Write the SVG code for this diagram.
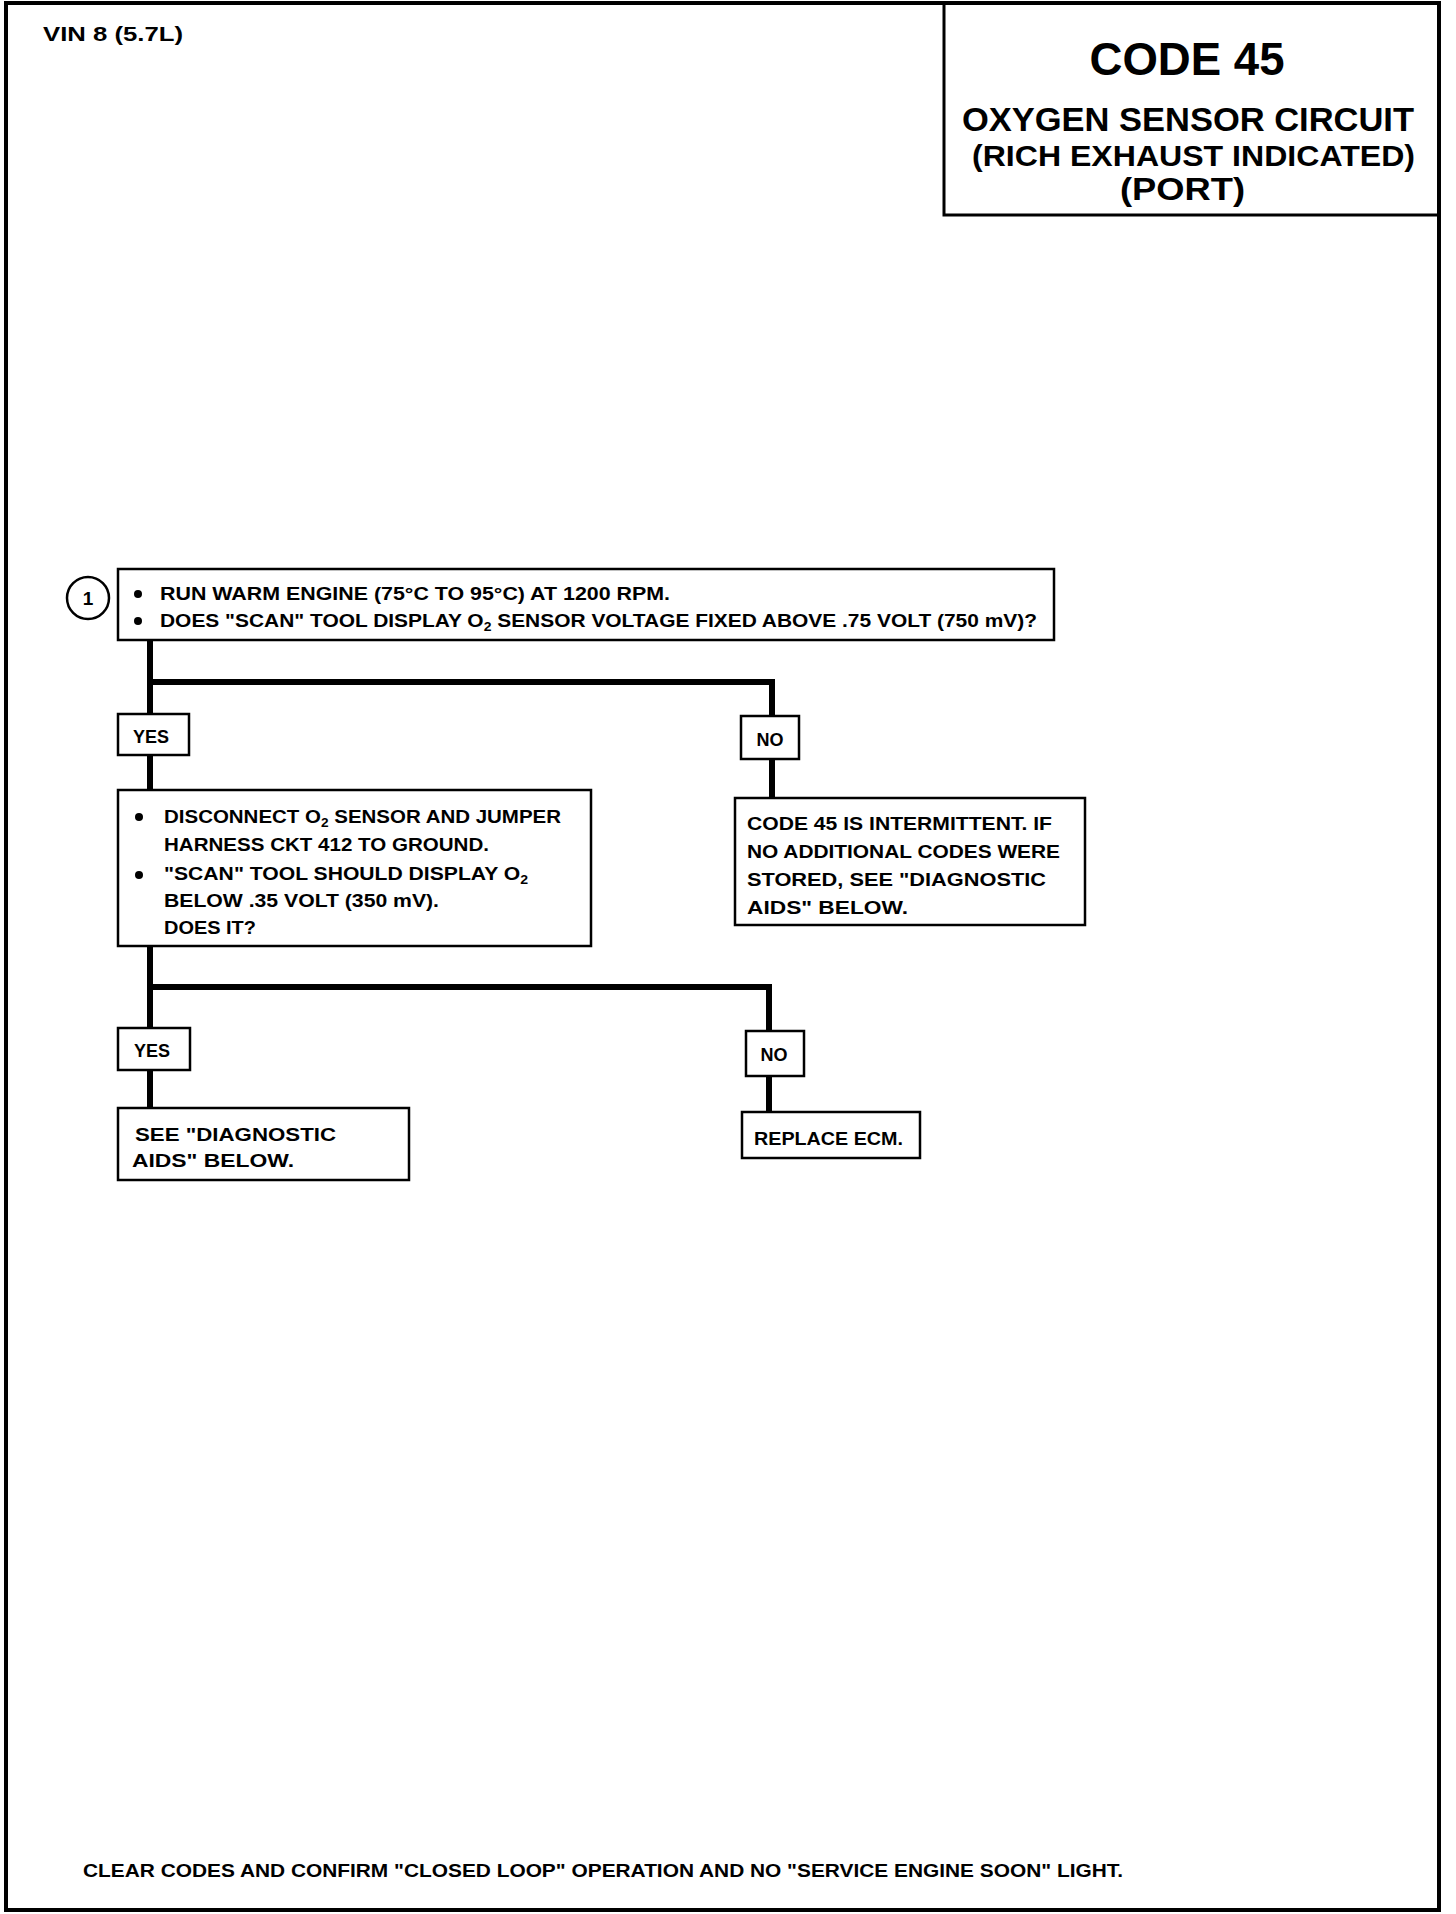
<svg xmlns="http://www.w3.org/2000/svg" width="1456" height="1914" viewBox="0 0 1456 1914">
<style>
text{font-family:"Liberation Sans",Arial,sans-serif;font-weight:bold;fill:#000}
.t{font-size:18px}
.box{fill:#fff;stroke:#000;stroke-width:2.5}
.conn{fill:none;stroke:#000;stroke-width:6;stroke-linejoin:miter}
.sub{font-size:12px}
</style>
<rect x="0" y="0" width="1456" height="1914" fill="#fff"/>
<g id="frame">
<rect x="6" y="3" width="1433" height="1907" fill="none" stroke="#000" stroke-width="4"/>
<text x="43" y="41" font-size="20" textLength="140" lengthAdjust="spacingAndGlyphs">VIN 8 (5.7L)</text>
</g>
<g id="title">
<path d="M944 3 V215 H1439" fill="none" stroke="#000" stroke-width="3"/>
<text x="1187" y="75" font-size="46" text-anchor="middle" textLength="195" lengthAdjust="spacingAndGlyphs">CODE 45</text>
<text x="962" y="131" font-size="33" textLength="452" lengthAdjust="spacingAndGlyphs">OXYGEN SENSOR CIRCUIT</text>
<text x="972" y="166" font-size="29" textLength="443" lengthAdjust="spacingAndGlyphs">(RICH EXHAUST INDICATED)</text>
<text x="1120" y="200" font-size="31" textLength="125" lengthAdjust="spacingAndGlyphs">(PORT)</text>
</g>
<g id="connectors">
<path class="conn" d="M150 640 V714"/>
<path class="conn" d="M150 682 H772 V716"/>
<path class="conn" d="M150 755 V790"/>
<path class="conn" d="M772 759 V798"/>
<path class="conn" d="M150 946 V1028"/>
<path class="conn" d="M150 987 H769 V1031"/>
<path class="conn" d="M150 1070 V1108"/>
<path class="conn" d="M769 1076 V1112"/>
</g>
<g id="step1">
<circle cx="88" cy="598" r="21" fill="#fff" stroke="#000" stroke-width="2.5"/>
<text x="88" y="605" font-size="19" text-anchor="middle">1</text>
<rect class="box" x="118" y="569" width="936" height="71"/>
<circle cx="138" cy="594" r="4"/>
<circle cx="138" cy="621" r="4"/>
<text class="t" x="160" y="600" textLength="510" lengthAdjust="spacingAndGlyphs">RUN WARM ENGINE  (75°C TO 95°C) AT 1200 RPM.</text>
<text class="t" x="160" y="627" textLength="877" lengthAdjust="spacingAndGlyphs">DOES "SCAN" TOOL DISPLAY O<tspan class="sub" dy="4">2</tspan><tspan dy="-4"> SENSOR VOLTAGE FIXED ABOVE .75 VOLT (750 mV)?</tspan></text>
</g>
<g id="yes1">
<rect class="box" x="118" y="714" width="71" height="41"/>
<text class="t" x="151" y="743" text-anchor="middle">YES</text>
</g>
<g id="no1">
<rect class="box" x="741" y="716" width="58" height="43"/>
<text class="t" x="770" y="746" text-anchor="middle">NO</text>
</g>
<g id="step2">
<rect class="box" x="118" y="790" width="473" height="156"/>
<circle cx="139" cy="817" r="4"/>
<circle cx="139" cy="875" r="4"/>
<text class="t" x="164" y="823" textLength="397" lengthAdjust="spacingAndGlyphs">DISCONNECT O<tspan class="sub" dy="4">2</tspan><tspan dy="-4"> SENSOR AND JUMPER</tspan></text>
<text class="t" x="164" y="851" textLength="325" lengthAdjust="spacingAndGlyphs">HARNESS CKT 412 TO GROUND.</text>
<text class="t" x="164" y="880" textLength="364" lengthAdjust="spacingAndGlyphs">"SCAN" TOOL SHOULD DISPLAY O<tspan class="sub" dy="4">2</tspan></text>
<text class="t" x="164" y="907" textLength="275" lengthAdjust="spacingAndGlyphs">BELOW .35 VOLT (350 mV).</text>
<text class="t" x="164" y="934" textLength="92" lengthAdjust="spacingAndGlyphs">DOES IT?</text>
</g>
<g id="intermittent">
<rect class="box" x="735" y="798" width="350" height="127"/>
<text class="t" x="747" y="830" textLength="305" lengthAdjust="spacingAndGlyphs">CODE 45 IS INTERMITTENT.  IF</text>
<text class="t" x="747" y="858" textLength="313" lengthAdjust="spacingAndGlyphs">NO ADDITIONAL CODES WERE</text>
<text class="t" x="747" y="886" textLength="299" lengthAdjust="spacingAndGlyphs">STORED, SEE  "DIAGNOSTIC</text>
<text class="t" x="747" y="914" textLength="161" lengthAdjust="spacingAndGlyphs">AIDS"  BELOW.</text>
</g>
<g id="yes2">
<rect class="box" x="118" y="1028" width="72" height="42"/>
<text class="t" x="152" y="1057" text-anchor="middle">YES</text>
</g>
<g id="no2">
<rect class="box" x="746" y="1031" width="58" height="45"/>
<text class="t" x="774" y="1061" text-anchor="middle">NO</text>
</g>
<g id="diag-aids">
<rect class="box" x="118" y="1108" width="291" height="72"/>
<text class="t" x="135" y="1141" textLength="201" lengthAdjust="spacingAndGlyphs">SEE  "DIAGNOSTIC</text>
<text class="t" x="132" y="1167" textLength="162" lengthAdjust="spacingAndGlyphs">AIDS"  BELOW.</text>
</g>
<g id="replace-ecm">
<rect class="box" x="742" y="1112" width="178" height="46"/>
<text class="t" x="754" y="1145" textLength="149" lengthAdjust="spacingAndGlyphs">REPLACE ECM.</text>
</g>
<g id="footer">
<text class="t" x="83" y="1877" textLength="1040" lengthAdjust="spacingAndGlyphs">CLEAR CODES AND CONFIRM "CLOSED LOOP"  OPERATION AND NO "SERVICE ENGINE SOON" LIGHT.</text>
</g>
</svg>
